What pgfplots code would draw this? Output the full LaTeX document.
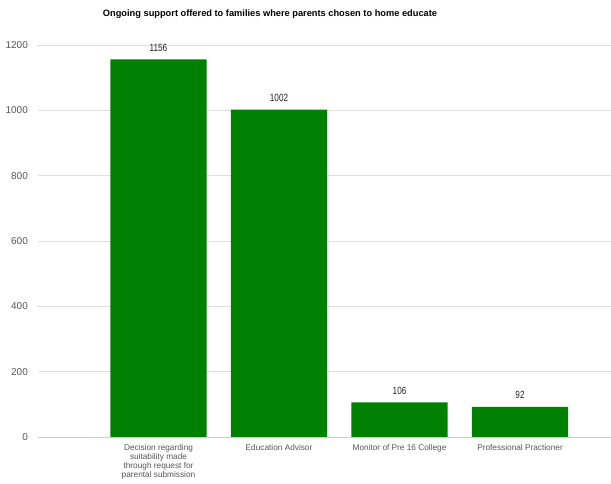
\documentclass[border=0pt]{standalone}
\usepackage{pgfplots}
\pgfplotsset{compat=1.18}
\usepackage{fontspec}
\setmainfont{Liberation Sans}
\newfontfamily\narrowfont[FakeStretch=0.78]{Liberation Sans}
\definecolor{bargreen}{RGB}{0,128,0}
\definecolor{ticktext}{RGB}{85,85,85}
\definecolor{gridc}{RGB}{221,221,221}
\definecolor{axisc}{RGB}{204,204,204}
\definecolor{valtext}{RGB}{34,34,34}
\begin{document}
\begin{tikzpicture}[x=1bp,y=1bp]
\useasboundingbox (0,0) rectangle (611,484);
\node[font=\bfseries\fontsize{9.3}{11}\selectfont] at (270,470) {Ongoing support offered to families where parents chosen to home educate};
\begin{axis}[
  at={(38bp,47bp)}, anchor=south west,
  scale only axis, width=573bp, height=392bp,
  xmin=0, xmax=4.755, ymin=0, ymax=1200,
  ytick={0,200,400,600,800,1000,1200},
  xtick={1,2,3,4},
  xticklabels={{Decision regarding\\suitability made\\through request for\\parental submission},{Education Advisor},{Monitor of Pre 16 College},{Professional Practioner}},
  ymajorgrids, grid style={draw=gridc, line width=0.8bp},
  axis x line*=bottom, axis y line*=left,
  y axis line style={draw=none},
  x axis line style={draw=axisc, line width=0.8bp, -},
  major tick length=0pt, tick style={draw=none},
  yticklabel style={font=\fontsize{10}{12}\selectfont, text=ticktext, inner sep=0pt, xshift=-10bp},
  xticklabel style={font=\fontsize{8.3}{9.3}\selectfont, text=ticktext, align=center, inner sep=0pt, yshift=-7bp},
  /pgf/number format/assume math mode=true,
  /pgf/number format/1000 sep={},
  ybar, bar width=0.8,
  nodes near coords,
  nodes near coords style={font=\narrowfont\fontsize{10.5}{12}\selectfont, text=valtext, inner sep=0pt, anchor=south, yshift=8bp, /pgf/number format/1000 sep={}},
]
\addplot[fill=bargreen, draw=none] coordinates {(1,1156) (2,1002) (3,106) (4,92)};
\end{axis}
\end{tikzpicture}
\end{document}
